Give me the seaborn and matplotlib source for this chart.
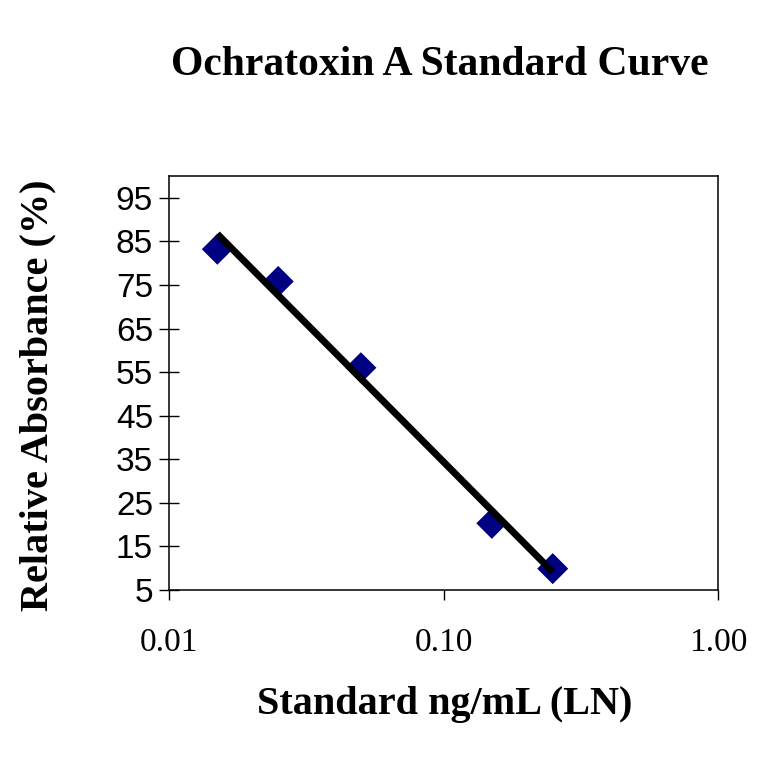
import numpy as np
import pandas as pd
import matplotlib
matplotlib.use("Agg")
import matplotlib.pyplot as plt
import seaborn as sns

# Data
standard = [0.015, 0.025, 0.05, 0.15, 0.25]
absorbance = [83.2, 75.8, 56.0, 20.3, 9.9]
x_ticks = [0.01, 0.10, 1.00]
x_tick_labels = ["0.01", "0.10", "1.00"]
y_ticks = [5, 15, 25, 35, 45, 55, 65, 75, 85, 95]

title = "Ochratoxin A Standard Curve"
xlabel = "Standard ng/mL (LN)"
ylabel = "Relative Absorbance (%)"

df = pd.DataFrame({"standard": standard, "absorbance": absorbance})

sns.set_style("white")
plt.rcParams["font.family"] = ["Liberation Serif", "DejaVu Serif"]
for k in ["text.color", "axes.labelcolor", "xtick.color", "ytick.color", "axes.edgecolor"]:
    plt.rcParams[k] = "black"

W, H = 764, 764
fig = plt.figure(figsize=(W / 100, H / 100), dpi=100)
ax = fig.add_axes([169 / W, 1 - 590 / H, (718 - 169) / W, (590 - 176) / H])

sns.regplot(data=df, x="standard", y="absorbance", logx=True, ci=None, ax=ax,
            marker="D",
            scatter_kws={"s": 250, "color": "#000080", "edgecolor": "none", "alpha": 1},
            line_kws={"color": "black", "linewidth": 5, "solid_capstyle": "butt"})

ax.set_xscale("log")
ax.set_xlim(0.01, 1.0)
ax.set_ylim(5, 100)
ax.set_xticks(x_ticks)
ax.set_xticklabels(x_tick_labels)
ax.minorticks_off()
ax.set_yticks(y_ticks)
ax.set_yticklabels([str(v) for v in y_ticks], fontfamily="Liberation Sans")

ax.tick_params(axis="y", direction="inout", length=15, width=1, colors="black",
               labelsize=24, pad=4, left=True)
ax.tick_params(axis="x", direction="out", length=7, width=1, colors="black",
               labelsize=24, pad=20, bottom=True)

for s in ax.spines.values():
    s.set_visible(True)
    s.set_color("black")
    s.set_linewidth(1.1)

ax.set_xlabel(xlabel, fontsize=29, fontweight="bold", color="black")
ax.set_ylabel(ylabel, fontsize=29, fontweight="bold", color="black")
ax.xaxis.set_label_coords(445 / W, 1 - 686 / H, transform=fig.transFigure)
ax.yaxis.set_label_coords(56 / W, 1 - 395 / H, transform=fig.transFigure)

fig.text(440 / W, 1 - 75 / H, title, fontsize=30, fontweight="bold",
         ha="center", va="baseline", color="black")

fig.savefig("out.png", dpi=100, facecolor="white")
